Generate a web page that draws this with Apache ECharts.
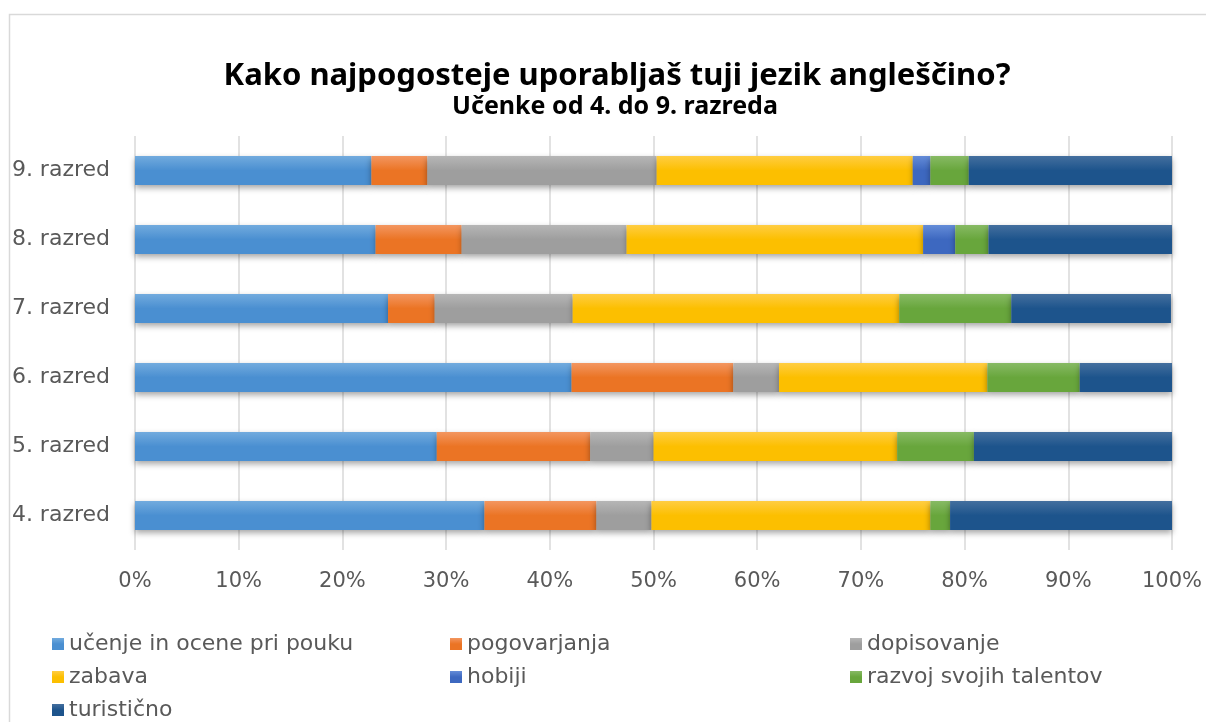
<!DOCTYPE html>
<html>
<head>
<meta charset="utf-8">
<script src="https://cdn.jsdelivr.net/npm/echarts@6/dist/echarts.min.js"></script>
<style>
  html, body { margin: 0; padding: 0; background: #fff; }
  #chart { width: 1206px; height: 722px; }
</style>
</head>
<body>
<div id="chart"></div>
<script>
  // razredi od spodaj navzgor
  const razredi = ['4. razred', '5. razred', '6. razred', '7. razred', '8. razred', '9. razred']
  const ucenje = [33.7, 29.1, 42.1, 24.4, 23.2, 22.8]
  const pogovarjanja = [10.8, 14.8, 15.6, 4.5, 8.3, 5.4]
  const dopisovanje = [5.3, 6.1, 4.4, 13.3, 15.9, 22.1]
  const zabava = [26.9, 23.5, 20.1, 31.5, 28.6, 24.7]
  const hobiji = [0, 0, 0, 0, 3.1, 1.7]
  const talenti = [1.9, 7.4, 8.9, 10.8, 3.2, 3.7]
  const turisticno = [21.4, 19.1, 9.0, 15.4, 17.7, 19.6]
  const xTicks = [0, 10, 20, 30, 40, 50, 60, 70, 80, 90, 100]

  let myChart = echarts.init(document.getElementById('chart'))
  const labelFont = 'DejaVu Sans'

  function grad(top, bottom) {
    return new echarts.graphic.LinearGradient(0, 0, 0, 1, [
      { offset: 0, color: top },
      { offset: 0.5, color: bottom },
      { offset: 1, color: bottom }
    ])
  }

  const serije = [
    { name: 'učenje in ocene pri pouku', data: ucenje, c: ['#72abde', '#4a8fd1'] },
    { name: 'pogovarjanja', data: pogovarjanja, c: ['#f39660', '#eb7424'] },
    { name: 'dopisovanje', data: dopisovanje, c: ['#b6b6b6', '#9e9e9e'] },
    { name: 'zabava', data: zabava, c: ['#ffcd42', '#fcbf00'] },
    { name: 'hobiji', data: hobiji, c: ['#648cd8', '#3d68c0'] },
    { name: 'razvoj svojih talentov', data: talenti, c: ['#87ba64', '#68a63c'] },
    { name: 'turistično', data: turisticno, c: ['#446f9e', '#1d548c'] }
  ]

  const legendText = { color: '#595959', fontSize: 22, fontFamily: labelFont }
  const legendBase = {
    orient: 'vertical', icon: 'rect', itemWidth: 12, itemHeight: 12, itemGap: 11,
    padding: 0, height: 110, textStyle: legendText, selectedMode: false
  }

  myChart.setOption({
    animation: false,
    graphic: [{
      type: 'rect', left: 7, top: 12,
      shape: { width: 1230, height: 760 },
      style: { fill: 'none', stroke: '#d9d9d9', lineWidth: 1.5 }
    }],
    title: [
      {
        text: 'Kako najpogosteje uporabljaš tuji jezik angleščino?',
        left: 612, top: 56, textAlign: 'center',
        textStyle: { fontFamily: 'Noto Sans', fontWeight: 'bold', fontSize: 31, color: '#000' }
      },
      {
        text: 'Učenke od 4. do 9. razreda',
        left: 610, top: 89, textAlign: 'center',
        textStyle: { fontFamily: 'Noto Sans', fontWeight: 'bold', fontSize: 25, color: '#000' }
      }
    ],
    legend: [
      Object.assign({}, legendBase, { left: 52, top: 633, data: [serije[0].name, serije[3].name, serije[6].name] }),
      Object.assign({}, legendBase, { left: 450, top: 633, data: [serije[1].name, serije[4].name] }),
      Object.assign({}, legendBase, { left: 850, top: 633, data: [serije[2].name, serije[5].name] })
    ],
    grid: { left: 135, right: 34, top: 136, height: 414, containLabel: false },
    xAxis: {
      type: 'value', min: 0, max: 100, interval: 10,
      axisLine: { show: false },
      axisTick: { show: false },
      splitLine: { lineStyle: { color: '#d9d9d9', width: 1.5 } },
      axisLabel: {
        color: '#595959', fontSize: 21, fontFamily: labelFont, margin: 21,
        formatter: v => xTicks.includes(v) ? v + '%' : ''
      }
    },
    yAxis: {
      type: 'category', data: razredi,
      axisLine: { show: false },
      axisTick: { show: false },
      axisLabel: { color: '#595959', fontSize: 22, fontFamily: labelFont, margin: 25 }
    },
    series: serije.map(s => ({
      type: 'bar', name: s.name, stack: 'skupaj', data: s.data, barWidth: 29,
      itemStyle: {
        color: grad(s.c[0], s.c[1]),
        shadowColor: 'rgba(0,0,0,0.35)', shadowBlur: 6, shadowOffsetY: 3
      }
    }))
  })
</script>
</body>
</html>
